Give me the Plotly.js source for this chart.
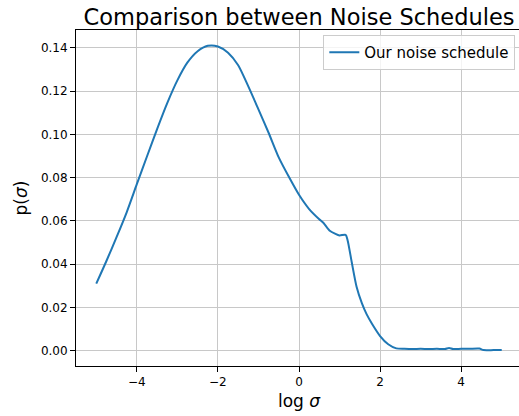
<!DOCTYPE html>
<html>
<head>
<meta charset="utf-8">
<script src="https://cdn.plot.ly/plotly-3.0.1.min.js"></script>
<style>
html,body{margin:0;padding:0;overflow:hidden;width:519px;height:416px;background:#fff;}
#chart{width:524px;height:416px;}
</style>
</head>
<body>
<div id="chart"></div>
<script>
const logSigma = [-5.0,-4.75,-4.5,-4.25,-4.0,-3.75,-3.5,-3.25,-3.0,-2.75,-2.5,-2.25,-2.0,-1.75,-1.5,-1.25,-1.0,-0.75,-0.5,-0.25,0.0,0.25,0.5,0.6,0.75,0.9,1.0,1.15,1.2,1.3,1.42,1.55,1.67,1.8,2.0,2.2,2.4,2.6,2.8,3.0,3.2,3.4,3.6,3.7,3.8,4.0,4.2,4.45,4.55,4.8,5.0];
const pSigma = [0.031,0.0415,0.0525,0.064,0.077,0.0898,0.1025,0.1145,0.1250,0.1333,0.1385,0.1410,0.1407,0.1378,0.1320,0.1222,0.1116,0.1008,0.0894,0.0804,0.0721,0.0655,0.0608,0.0592,0.0556,0.0540,0.0533,0.0536,0.051,0.041,0.0296,0.022,0.0168,0.0125,0.0068,0.0030,0.0011,0.0009,0.0008,0.0009,0.0008,0.0009,0.0008,0.0013,0.0008,0.0009,0.0009,0.0010,0.0003,0.0003,0.0003];
const seriesName = "Our noise schedule";
const chartTitle = "Comparison between Noise Schedules";
const xTickVals = [-4,-2,0,2,4];
const yTickVals = [0,0.02,0.04,0.06,0.08,0.10,0.12,0.14];
const yTickText = ["0.00","0.02","0.04","0.06","0.08","0.10","0.12","0.14"];

const font = "DejaVu Sans, sans-serif";
const trace = {
  x: logSigma, y: pSigma, type: "scatter", mode: "lines", name: seriesName,
  line: {color: "#1f77b4", width: 2, shape: "spline", smoothing: 0.7}
};
const axisCommon = {
  showline: true, mirror: true, linecolor: "#000", linewidth: 1,
  ticks: "outside", ticklen: 5, tickcolor: "#000", tickwidth: 1,
  showgrid: true, gridcolor: "#c8c8c8", gridwidth: 1, zeroline: false,
  tickfont: {family: font, size: 12, color: "#000"}
};
const layout = {
  width: 524, height: 416,
  margin: {l: 76, r: 2, t: 30, b: 50},
  paper_bgcolor: "#fff", plot_bgcolor: "#fff",
  font: {family: font, color: "#000"},
  title: {text: chartTitle, font: {family: font, size: 22.5, color: "#000"},
          x: 0.5, xref: "paper", y: 1 - 17/416, yref: "container", yanchor: "middle"},
  xaxis: Object.assign({}, axisCommon, {
    range: [-5.5, 5.5], tickvals: xTickVals,
    title: {text: "log <i>σ</i>", font: {family: font, size: 17, color: "#000"}, standoff: 6}
  }),
  yaxis: Object.assign({}, axisCommon, {
    range: [-0.00706, 0.1483], tickvals: yTickVals, ticktext: yTickText,
    title: {text: "p(<i>σ</i>)", font: {family: font, size: 17, color: "#000"}, standoff: 8}
  }),
  showlegend: true,
  legend: {x: 0.985, y: 0.985, xanchor: "right", yanchor: "top", itemwidth: 30,
           bgcolor: "rgba(255,255,255,0.8)", bordercolor: "#cccccc", borderwidth: 1,
           font: {family: font, size: 15, color: "#000"}}
};
Plotly.newPlot("chart", [trace], layout, {displayModeBar: false, staticPlot: true});
</script>
</body>
</html>
